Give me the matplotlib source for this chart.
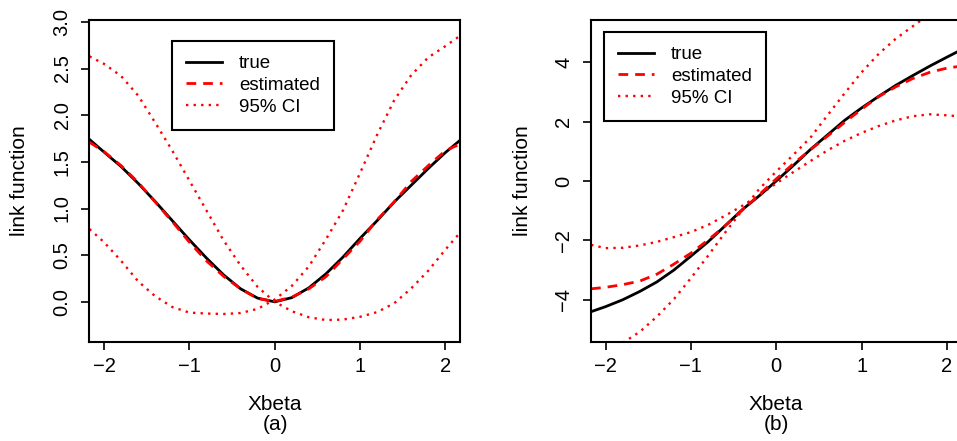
import numpy as np
import matplotlib
matplotlib.use("Agg")
import matplotlib.pyplot as plt

plt.rcParams['font.family'] = ['Liberation Sans', 'DejaVu Sans']

xg = [-2.17, -2.0, -1.8, -1.6, -1.4, -1.2, -1.0, -0.8, -0.6, -0.4, -0.2, 0.0,
      0.2, 0.4, 0.6, 0.8, 1.0, 1.2, 1.4, 1.6, 1.8, 2.0, 2.17]

# panel (a)
true_a = [1.74, 1.605, 1.45, 1.27, 1.075, 0.87, 0.665, 0.47, 0.29, 0.14, 0.04, 0.0,
          0.045, 0.15, 0.30, 0.48, 0.68, 0.87, 1.07, 1.25, 1.43, 1.60, 1.73]
est_a = [1.71, 1.61, 1.46, 1.28, 1.07, 0.86, 0.64, 0.44, 0.275, 0.14, 0.035, 0.005,
         0.05, 0.14, 0.27, 0.46, 0.65, 0.88, 1.07, 1.29, 1.46, 1.62, 1.69]
ci1_a = [2.63, 2.55, 2.42, 2.21, 1.92, 1.62, 1.30, 0.98, 0.66, 0.39, 0.16, 0.0,
         -0.10, -0.165, -0.195, -0.19, -0.16, -0.11, -0.015, 0.145, 0.335, 0.56, 0.74]
ci2_a = [0.78, 0.64, 0.44, 0.22, 0.06, -0.055, -0.115, -0.125, -0.13, -0.12, -0.075, 0.025,
         0.17, 0.38, 0.67, 0.98, 1.38, 1.79, 2.16, 2.43, 2.62, 2.74, 2.85]

# panel (b)
true_b = [-4.40, -4.23, -4.00, -3.72, -3.40, -3.00, -2.53, -2.05, -1.51, -0.97, -0.50, 0.0,
          0.52, 1.06, 1.55, 2.04, 2.46, 2.85, 3.22, 3.55, 3.87, 4.17, 4.42]
est_b = [-3.63, -3.58, -3.49, -3.37, -3.14, -2.80, -2.43, -1.99, -1.51, -0.99, -0.46, 0.07,
         0.58, 1.05, 1.51, 1.97, 2.42, 2.84, 3.17, 3.45, 3.66, 3.80, 3.87]
ciB_b = [-2.15, -2.26, -2.25, -2.17, -2.05, -1.89, -1.72, -1.48, -1.17, -0.84, -0.48, -0.08,
         0.30, 0.67, 1.03, 1.35, 1.62, 1.85, 2.04, 2.18, 2.245, 2.21, 2.17]
xA = [-1.8, -1.6, -1.4, -1.2, -1.0, -0.8, -0.6, -0.4, -0.2, 0.0,
      0.2, 0.4, 0.6, 0.8, 1.0, 1.2, 1.4, 1.6, 1.7]
ciA_b = [-5.45, -5.08, -4.57, -3.98, -3.27, -2.52, -1.74, -0.99, -0.27, 0.32,
         0.88, 1.46, 2.21, 2.95, 3.66, 4.28, 4.79, 5.21, 5.42]

fs_tick = 14.5
fs_lab = 15
fs_leg = 13.5
dash = (0, (3.5, 2.5))
dot = (0, (1, 2.2))

fig = plt.figure(figsize=(9.57, 4.41), dpi=100)
axa = fig.add_axes([0.0935, 0.2245, 0.3871, 0.7302])
axb = fig.add_axes([0.6176, 0.2245, 0.3871, 0.7302])

axa.plot(xg, true_a, color='black', lw=2.0, label='true')
axa.plot(xg, est_a, color='red', lw=2.0, ls=dash, label='estimated')
axa.plot(xg, ci1_a, color='red', lw=1.7, ls=dot, label='95% CI')
axa.plot(xg, ci2_a, color='red', lw=1.7, ls=dot)
axa.set_xlim(-2.17, 2.17)
axa.set_ylim(-0.43, 3.02)
axa.set_yticks(np.arange(0, 3.01, 0.5))
axa.set_yticklabels(['0.0', '0.5', '1.0', '1.5', '2.0', '2.5', '3.0'])

axb.plot(xg, true_b, color='black', lw=2.0, label='true')
axb.plot(xg, est_b, color='red', lw=2.0, ls=dash, label='estimated')
axb.plot(xA, ciA_b, color='red', lw=1.7, ls=dot, label='95% CI')
axb.plot(xg, ciB_b, color='red', lw=1.7, ls=dot)
axb.set_xlim(-2.17, 2.17)
axb.set_ylim(-5.42, 5.42)
axb.set_yticks([-4, -2, 0, 2, 4])

legpos = {axa: (0.2227, 0.9348), axb: (0.0351, 0.9627)}
for ax in (axa, axb):
    ax.set_xticks([-2, -1, 0, 1, 2])
    for s in ax.spines.values():
        s.set_linewidth(1.5)
    ax.tick_params(direction='out', length=5.8, width=1.2, labelsize=fs_tick)
    ax.tick_params(axis='x', pad=5.0)
    ax.tick_params(axis='y', pad=7.0, labelrotation=90)
    for lab in ax.get_yticklabels():
        lab.set_va('center')
    leg = ax.legend(loc='upper left', bbox_to_anchor=legpos[ax], borderaxespad=0,
                    fontsize=fs_leg, fancybox=False, framealpha=1, edgecolor='black',
                    handlelength=1.92, handletextpad=0.9, borderpad=0.75,
                    labelspacing=0.25)
    leg.get_frame().set_linewidth(1.5)

fig.text(20 / 957, 1 - 181 / 441, 'link function', rotation=90, ha='center', va='center', fontsize=fs_lab)
fig.text(522 / 957, 1 - 181 / 441, 'link function', rotation=90, ha='center', va='center', fontsize=fs_lab)
fig.text(275 / 957, 1 - 405 / 441, 'Xbeta', ha='center', va='center', fontsize=fs_lab)
fig.text(275 / 957, 1 - 424 / 441, '(a)', ha='center', va='center', fontsize=fs_lab)
fig.text(776 / 957, 1 - 405 / 441, 'Xbeta', ha='center', va='center', fontsize=fs_lab)
fig.text(776 / 957, 1 - 424 / 441, '(b)', ha='center', va='center', fontsize=fs_lab)

fig.savefig('out.png', dpi=100)
